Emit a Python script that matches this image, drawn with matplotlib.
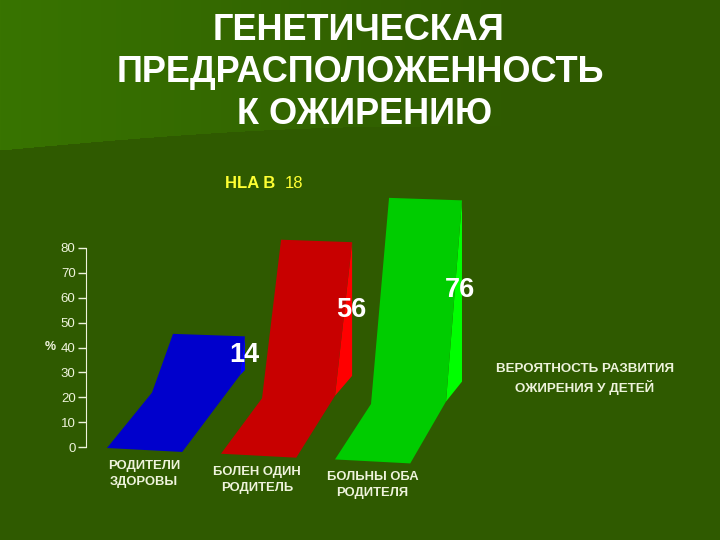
import matplotlib
matplotlib.use('Agg')
import matplotlib.pyplot as plt
from matplotlib.patches import Polygon
import numpy as np

plt.rcParams['font.family'] = ['Liberation Sans', 'DejaVu Sans']

# Dados do grafico
categorias = ['РОДИТЕЛИ\nЗДОРОВЫ', 'БОЛЕН ОДИН\nРОДИТЕЛЬ', 'БОЛЬНЫ ОБА\nРОДИТЕЛЯ']
valores = [14, 56, 76]
yticks = [0, 10, 20, 30, 40, 50, 60, 70, 80]
titulo = ['ГЕНЕТИЧЕСКАЯ', 'ПРЕДРАСПОЛОЖЕННОСТЬ', 'К ОЖИРЕНИЮ']
nota = 'ВЕРОЯТНОСТЬ РАЗВИТИЯ\nОЖИРЕНИЯ У ДЕТЕЙ'

# Cores
cor_frente = ['#0000cc', '#c80000', '#00cc00']
cor_lado = ['#0000ff', '#ff0000', '#00ff00']
texto = '#eef3dc'

W, H = 720, 540
fig = plt.figure(figsize=(W / 100, H / 100), dpi=100)

def fx(px):
    return px / W

def fy(py):
    return 1 - py / H

# Fundo: verde escuro com faixa clara no alto a esquerda
bg = fig.add_axes([0, 0, 1, 1], zorder=0)
bg.axis('off')
yy, xx = np.mgrid[0:H, 0:W]
limite = 150 - 24 * np.sin(np.clip(xx / 420, 0, 1) * np.pi / 2)
forca = np.clip(1 - xx / 520, 0, 1) * (yy < limite)
img = np.zeros((H, W, 3))
base = np.array([47, 90, 0]) / 255
claro = np.array([56, 116, 0]) / 255
img[:] = base
img += (claro - base) * forca[..., None]
bg.imshow(img, aspect='auto', interpolation='bilinear')

# Eixo: 0 em y=447 px e 80 em y=248 px, uma categoria = 114 px
ax = fig.add_axes([fx(86), fy(447), fx(400), 199 / H], zorder=1)
ax.patch.set_alpha(0)
ax.set_ylim(0, 80)
ax.set_xlim(-21 / 114, 400 / 114 - 21 / 114)
ax.set_xticks([])
ax.set_yticks(yticks)
ax.tick_params(axis='y', colors=texto, length=6, width=1, labelsize=9.5, pad=1.5)
for s in ['top', 'right', 'bottom']:
    ax.spines[s].set_visible(False)
ax.spines['left'].set_color(texto)

# Geometria do falso 3D (em unidades de categoria / de %)
prof_x = [0.395, 0.36, 0.316]
incl_x = [0.184, 0.167, 0.158]
dir_x = [1.21, 1.15, 1.114]
joelho_x = [1.167, 1.0, 0.974]
joelho_dy = [7, 1, 1]
largura = 0.66
prof_y = 22.3
escala = 0.956
extra = 10.2

for i, v in enumerate(valores):
    chao = -0.4 - 2.3 * i
    joelho = chao + prof_y
    topo = joelho + escala * v + extra
    x0 = float(i)
    frente = [(x0, chao),
              (x0 + prof_x[i], joelho),
              (x0 + prof_x[i] + incl_x[i], topo),
              (x0 + dir_x[i], topo - 1),
              (x0 + joelho_x[i], joelho + joelho_dy[i]),
              (x0 + largura, chao - 1.6)]
    lado = [(x0 + dir_x[i], topo - 1),
            (x0 + dir_x[i], joelho + 9),
            (x0 + joelho_x[i], joelho + joelho_dy[i])]
    ax.add_patch(Polygon(lado, closed=True, fc=cor_lado[i], ec='none', clip_on=False, zorder=2))
    ax.add_patch(Polygon(frente, closed=True, fc=cor_frente[i], ec='none', clip_on=False, zorder=3))

# Titulo
for t, cx, cy in zip(titulo, [359, 360, 365], [30, 72, 114]):
    fig.text(fx(cx), fy(cy), t, color='white', fontsize=26, fontweight='bold', ha='center', va='center')

# HLA B 18
fig.text(fx(225), fy(183), 'HLA B', color='#ffff33', fontsize=12, fontweight='bold', ha='left', va='center')
fig.text(fx(285), fy(183), '18', color='#ffff33', fontsize=12, ha='left', va='center')

# Rotulos dos valores
for v, cx, cy in zip(valores, [244, 351, 460], [355, 310, 290]):
    fig.text(fx(cx), fy(cy), str(v), color='white', fontsize=19.5, fontweight='bold', ha='center', va='center', zorder=5)

# Rotulos das categorias
for c, cx, cy in zip(categorias, [144, 257, 372.5], [474, 480, 485]):
    fig.text(fx(cx), fy(cy), c, color=texto, fontsize=9.4, fontweight='bold', ha='center', va='center', linespacing=1.4)

fig.text(fx(585), fy(379), nota, color=texto, fontsize=9.6, fontweight='bold', ha='center', va='center', linespacing=1.4)
fig.text(fx(50), fy(347), '%', color=texto, fontsize=9, fontweight='bold', ha='center', va='center')

fig.savefig('out.png', dpi=100)
